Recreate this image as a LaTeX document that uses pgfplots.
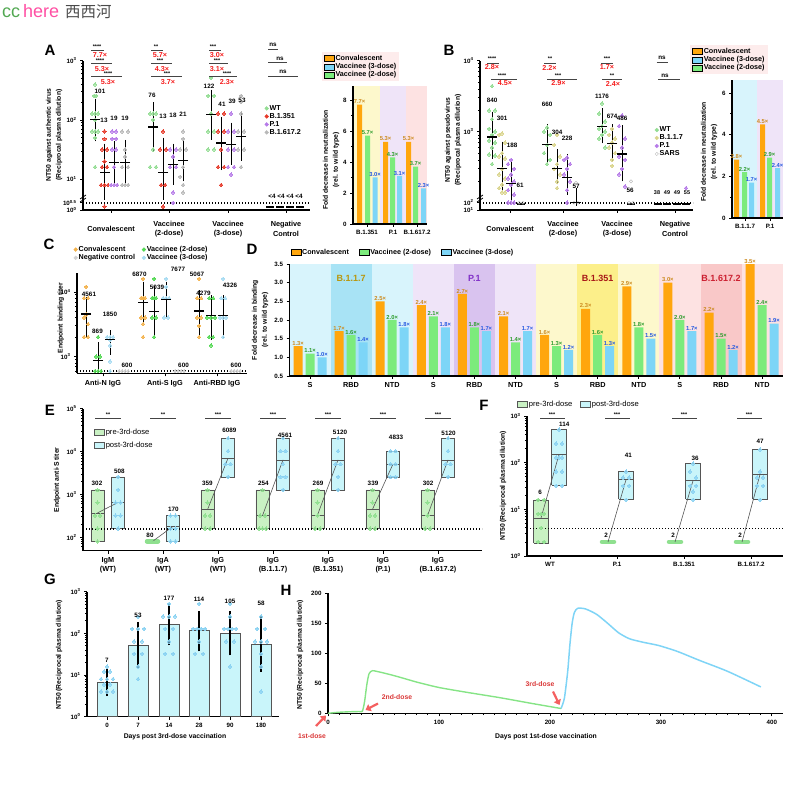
\documentclass[border=0pt]{standalone}
\usepackage{fontspec}
\setmainfont{Liberation Sans}
\newfontfamily\cjk{Noto Sans CJK SC}
\usepackage{pgfplots}
\pgfplotsset{compat=1.18}
\usetikzlibrary{arrows.meta}
\pgfkeys{/pgf/number format/assume math mode=true}

\newcommand\tl{\fontsize{6.2}{7}\selectfont\bfseries}
\newcommand\cl{\fontsize{7.3}{9.5}\selectfont\bfseries}
\newcommand\al{\fontsize{6.8}{10}\selectfont\bfseries}
\newcommand\vl{\fontsize{6.3}{7}\selectfont\bfseries}
\newcommand\fl{\fontsize{5.8}{6}\selectfont\bfseries}
\newcommand\pl{\fontsize{15}{16}\selectfont\bfseries}
\newcommand\lgb{\fontsize{7.2}{8}\selectfont\bfseries}
\newcommand\lgr{\fontsize{7.6}{8}\selectfont}
\newcommand\st{\fontsize{5.4}{5}\selectfont\bfseries}
\newcommand\fr{\fontsize{7.2}{8}\selectfont\bfseries\color{sigred}}

\definecolor{cOr}{HTML}{FFA60D}
\definecolor{cGr}{HTML}{7CEB7C}
\definecolor{cBl}{HTML}{7DD5F7}
\definecolor{tOr}{HTML}{CC8A1E}
\definecolor{tGr}{HTML}{2C9C2C}
\definecolor{tBl}{HTML}{2458E0}
\definecolor{dWT}{HTML}{93DD93}
\definecolor{dRd}{HTML}{E63A2A}
\definecolor{dPu}{HTML}{B67BE8}
\definecolor{dGy}{HTML}{B8B8B8}
\definecolor{dYe}{HTML}{D9D48C}
\definecolor{cConv}{HTML}{F3B24C}
\definecolor{c2d}{HTML}{52D852}
\definecolor{c3d}{HTML}{A6DBF2}
\definecolor{cNeg}{HTML}{D0D0D0}
\definecolor{preF}{HTML}{C9F1C3}
\definecolor{postF}{HTML}{C9F5FA}
\definecolor{preD}{HTML}{8FE08F}
\definecolor{postD}{HTML}{8AD2F2}
\definecolor{boxE}{HTML}{555555}
\definecolor{sigred}{HTML}{F51C1C}
\definecolor{arrred}{HTML}{F46060}
\definecolor{labred}{HTML}{D93636}
\definecolor{legpink}{HTML}{FDECEC}
\definecolor{bgY}{HTML}{FDF8CC}
\definecolor{bgPu}{HTML}{EFE4F8}
\definecolor{bgR}{HTML}{FDE2E2}
\definecolor{bgC}{HTML}{D8F4FC}
\definecolor{bgC2}{HTML}{A8E3F5}
\definecolor{bgP2}{HTML}{D9C3EF}
\definecolor{bgY2}{HTML}{FCEF8A}
\definecolor{bgR2}{HTML}{F9C8C8}
\definecolor{vB117}{HTML}{B8960C}
\definecolor{vP1}{HTML}{8030C8}
\definecolor{vB1351}{HTML}{A81818}
\definecolor{vB16172}{HTML}{CC2030}
\definecolor{lnG}{HTML}{86E486}
\definecolor{lnB}{HTML}{7FD4F6}
\definecolor{wmgreen}{HTML}{52A852}
\definecolor{wmpink}{HTML}{FF4FA3}
\definecolor{wmgray}{HTML}{4A4A4A}
\definecolor{sigln}{HTML}{444444}

\pgfplotsset{
 myax/.style={scale only axis, anchor=south west, clip=false,
   axis x line=bottom, axis y line=left,
   axis line style={-, line width=1.1pt},
   tick style={black, line width=0.9pt},
   major tick length=3pt, minor tick length=1.8pt, tick align=outside,
   tick label style={font=\tl}, xticklabel style={font=\cl}},
 dots/.style={only marks, mark=*, mark size=1.75pt, color=#1, mark options={draw=#1, fill=#1, line width=0pt, opacity=0.85}},
 odots/.style={only marks, mark=o, mark size=1.6pt, color=#1, mark options={draw=#1, line width=0.5pt}},
 med/.style={only marks, mark=-, mark size=5pt, color=black, mark options={line width=1.2pt, draw=black},
   error bars/.cd, y dir=both, y explicit, error bar style={line width=1pt, black},
   error mark options={line width=1pt, black, mark size=3pt}},
 fbar/.style={ybar, bar shift=0pt, bar width=5pt, fill=#1, draw=none},
 lab/.style={nodes near coords={\pgfmathprintnumber[fixed,fixed zerofill,precision=1]{\pgfplotspointmeta}×},
   every node near coord/.append style={font=\fl, text=#1, inner sep=0.6pt}},
 dotleg/.style={legend cell align=left, legend style={draw=none, fill=none, font=\lgb, row sep=-0.5pt, inner sep=0pt, nodes={inner sep=1pt}},
   legend image code/.code={\draw[##1] plot coordinates {(2.5pt,0pt)};}},
 boxleg/.style={legend cell align=left, legend style={draw=none, fill=none, font=\lgb, inner sep=1pt, nodes={inner sep=1pt}},
   legend image code/.code={\draw[##1] (0pt,-3pt) rectangle (10pt,3pt);}},
}

\begin{document}
\begin{tikzpicture}
\path[use as bounding box] (0pt,0pt) rectangle (800pt,785pt);

%================ A main
\begin{axis}[myax, dotleg, at={(83pt,575pt)}, width=227pt, height=149.3pt,
  xmin=83, xmax=310, ymode=log, ymin=3.03, ymax=1000,
  xtick={111,169,228,286}, xticklabels={Convalescent,{Vaccinee\\(2-dose)},{Vaccinee\\(3-dose)},{Negative\\Control}},
  xticklabel style={align=center, anchor=center, yshift=-16pt},
  ytick={3.03,4,10,100,1000},
  yticklabels={10\textsuperscript{0},10\textsuperscript{0.5},10\textsuperscript{1},10\textsuperscript{2},10\textsuperscript{3}},
  minor ytick={20,30,40,50,60,70,80,90,200,300,400,500,600,700,800,900},
  legend style={at={(0.80,0.71)}, anchor=north west}]
\addlegendimage{only marks, mark=*, mark size=1.9pt, color=dWT, mark options={fill=dWT, draw=dWT}}\addlegendentry{WT}
\addlegendimage{only marks, mark=*, mark size=1.9pt, color=dRd, mark options={fill=dRd, draw=dRd}}\addlegendentry{B.1.351}
\addlegendimage{only marks, mark=*, mark size=1.9pt, color=dPu, mark options={fill=dPu, draw=dPu}}\addlegendentry{P.1}
\addlegendimage{only marks, mark=*, mark size=1.9pt, color=dGy, mark options={fill=dGy, draw=dGy}}\addlegendentry{B.1.617.2}
\addplot[black, line width=1.6pt, dash pattern=on 1.4pt off 1.6pt] coordinates {(83,4) (310,4)};
% WT
\addplot[dots=dWT] coordinates {(95,400)(94,256)(96,256)(92,128)(95,128)(98,128)(95,100)(92,64)(95,64)(98,64)(95,50)(95,16)
 (150,128)(153,128)(156,128)(153,100)(153,32)(150,16)(156,16)
 (211,512)(208,256)(214,256)(211,128)(208,64)(214,64)(208,32)(214,32)};
% B.1.351
\addplot[dots=dRd] coordinates {(104.5,64)(104.5,48)(102,32)(107,32)(104.5,20)(102,16)(107,16)(101,8)(104.5,8)(108,8)(104.5,3.45)
 (163,64)(160,32)(166,32)(161,8)(165,8)(163,3.45)
 (218,128)(224,128)(218,64)(224,64)(221,32)(218,16)(224,16)(221,8)};
% P.1
\addplot[dots=dPu] coordinates {(112,64)(116,64)(112,48)(116,48)(112,32)(116,32)(114,16)(111,8)(114,8)(117,8)
 (170,32)(176,32)(173,24)(170,16)(176,16)(173,6)(173,4)
 (231,128)(228,64)(234,64)(228,32)(234,32)(228,16)(234,16)(231,12)};
% B.1.617.2
\addplot[dots=dGy] coordinates {(122,64)(128,64)(125,32)(125,24)(122,16)(128,16)(122,8)(125,8)(128,8)
 (183,64)(183,48)(180,32)(186,32)(183,16)(180,11)(183,8)(183,6)
 (241,256)(241,200)(241,128)(238,64)(244,64)(238,32)(244,32)(241,16)};
\addplot[med] coordinates {(95,101) += (0,103) -= (0,52)  (104.5,13) += (0,22.5) -= (0,7.9)
 (114,19) += (0,20) -= (0,9.2)  (125,19) += (0,22) -= (0,9.9)
 (153,76) += (0,102) -= (0,43)  (163,13) += (0,32) -= (0,7.9)  (173,18) += (0,17.5) -= (0,8.9)  (183,21) += (0,20.5) -= (0,10.7)
 (211,122) += (0,167) -= (0,70)  (221,41) += (0,59) -= (0,25)  (231,39) += (0,41) -= (0,19.2)  (241,53) += (0,73) -= (0,30)};
\addplot[black, line width=2pt] coordinates {(266,3.35)(274,3.35)};
\addplot[black, line width=2pt] coordinates {(276,3.35)(284,3.35)};
\addplot[black, line width=2pt] coordinates {(286,3.35)(294,3.35)};
\addplot[black, line width=2pt] coordinates {(296,3.35)(304,3.35)};
\end{axis}

%================ A inset
\begin{axis}[myax, axis on top, at={(353pt,561pt)}, width=74pt, height=138pt,
  xmin=353, xmax=427, ymin=0, ymax=8.9,
  xtick={367,393,417}, xticklabels={B.1.351,P.1,B.1.617.2}, xticklabel style={font=\tl},
  ytick={0,2,4,6,8}, minor ytick={1,3,5,7},
  legend cell align=left,
  legend style={at={(-0.42,1.246)}, anchor=north west, fill=legpink, draw=none, font=\lgb, inner sep=2pt, row sep=-0.5pt, nodes={inner sep=1pt}},
  legend image code/.code={\fill[#1] (0pt,-3pt) rectangle (10pt,3pt);}]
\addlegendimage{fill=cOr}\addlegendentry{Convalescent}
\addlegendimage{fill=cBl}\addlegendentry{Vaccinee (3-dose)}
\addlegendimage{fill=cGr}\addlegendentry{Vaccinee (2-dose)}
\fill[bgY] (353,0) rectangle (380,8.9);
\fill[bgPu] (380,0) rectangle (406,8.9);
\fill[bgR] (406,0) rectangle (427,8.9);
\addplot[fbar=cOr, lab=tOr] coordinates {(359.5,7.7)(385.5,5.3)(408.5,5.3)};
\addplot[fbar=cGr, lab=tGr] coordinates {(367.5,5.7)(392.5,4.3)(415.5,3.7)};
\addplot[fbar=cBl, lab=tBl] coordinates {(375,3.0)(399.5,3.1)(423.5,2.3)};
\end{axis}

%================ B main
\begin{axis}[myax, dotleg, at={(480pt,575pt)}, width=213pt, height=149.3pt,
  xmin=480, xmax=693, ymode=log, ymin=79, ymax=10000,
  xtick={510,563,617,675}, xticklabels={Convalescent,{Vaccinee\\(2-dose)},{Vaccinee\\(3-dose)},{Negative\\Control}},
  xticklabel style={align=center, anchor=center, yshift=-16pt},
  ytick={79,100,1000,10000},
  yticklabels={10\textsuperscript{1},10\textsuperscript{2},10\textsuperscript{3},10\textsuperscript{4}},
  minor ytick={200,300,400,500,600,700,800,900,2000,3000,4000,5000,6000,7000,8000,9000},
  legend style={at={(0.82,0.565)}, anchor=north west}]
\addlegendimage{only marks, mark=*, mark size=1.9pt, color=dWT, mark options={fill=dWT, draw=dWT}}\addlegendentry{WT}
\addlegendimage{only marks, mark=*, mark size=1.9pt, color=dYe, mark options={fill=dYe, draw=dYe}}\addlegendentry{B.1.1.7}
\addlegendimage{only marks, mark=*, mark size=1.9pt, color=dPu, mark options={fill=dPu, draw=dPu}}\addlegendentry{P.1}
\addlegendimage{only marks, mark=o, mark size=1.7pt, color=gray!50, mark options={draw=gray!50}}\addlegendentry{SARS}
\addplot[black, line width=1.6pt, dash pattern=on 1.4pt off 1.6pt] coordinates {(480,100) (693,100)};
\addplot[dots=dWT] coordinates {(492,4400)(489,2000)(495,2000)(492,1500)(489,1100)(495,1000)(492,900)(489,750)(495,700)(492,600)(489,480)(495,460)(492,350)
 (547,1150)(544,1000)(550,900)(547,650)(544,500)(550,400)(547,350)
 (602,2500)(599,1800)(605,1400)(602,1200)(599,1100)(605,1000)(602,900)(599,800)(605,600)};
\addplot[dots=dYe] coordinates {(502,950)(499,900)(505,700)(502,500)(499,450)(505,420)(502,300)(499,250)(505,220)(502,180)(499,160)(505,140)(502,140)
 (557,900)(554,650)(560,450)(557,350)(554,300)(560,250)(557,200)(557,160)
 (612,1100)(609,900)(615,800)(612,700)(609,600)(615,500)(612,400)(612,330)};
\addplot[dots=dPu] coordinates {(511,400)(508,350)(514,300)(511,250)(508,220)(514,200)(511,180)(508,150)(514,130)(508,100)(511,100)(514,100)
 (567,430)(564,400)(570,350)(567,300)(564,250)(570,200)(567,150)(567,100)
 (622,1700)(619,1200)(625,800)(622,600)(619,450)(625,400)(622,300)(619,250)(625,170)
 (686,160)};
\addplot[odots=gray!50] coordinates {(519,100)(523,100)(576,190)(574,100)(578,100)(631,200)(629,100)(633,100)};
\addplot[med] coordinates {(492,840) += (0,900) -= (0,385)  (502,301) += (0,359) -= (0,139)  (511,188) += (0,152) -= (0,68)
 (547,660) += (0,490) -= (0,255)  (557,304) += (0,211) -= (0,104)  (567,228) += (0,206) -= (0,86)
 (576,100) += (0,45) -= (0,0)
 (602,1176) += (0,754) -= (0,419)  (612,674) += (0,476) -= (0,244)  (622,486) += (0,634) -= (0,266)};
\addplot[black, line width=2.2pt] coordinates {(517,97)(525,97)};
\addplot[black, line width=2.2pt] coordinates {(627,97)(635,97)};
\addplot[black, line width=2.2pt] coordinates {(654,97)(662,97)};
\addplot[black, line width=2.2pt] coordinates {(663,97)(671,97)};
\addplot[black, line width=2.2pt] coordinates {(673,97)(681,97)};
\addplot[black, line width=2.2pt] coordinates {(682,97)(690,97)};
\end{axis}

%================ B inset
\begin{axis}[myax, axis on top, at={(732pt,567pt)}, width=51pt, height=138pt,
  xmin=732, xmax=783, ymin=0, ymax=6.63,
  xtick={745,770}, xticklabels={B.1.1.7,P.1}, xticklabel style={font=\tl},
  ytick={0,2,4,6}, minor ytick={1,3,5},
  legend cell align=left,
  legend style={at={(-0.82,1.254)}, anchor=north west, fill=legpink, draw=none, font=\lgb, inner sep=2pt, row sep=-0.5pt, nodes={inner sep=1pt}},
  legend image code/.code={\fill[#1] (0pt,-3pt) rectangle (10pt,3pt);}]
\addlegendimage{fill=cOr}\addlegendentry{Convalescent}
\addlegendimage{fill=cBl}\addlegendentry{Vaccinee (3-dose)}
\addlegendimage{fill=cGr}\addlegendentry{Vaccinee (2-dose)}
\fill[bgC] (732,0) rectangle (757,6.63);
\fill[bgPu] (757,0) rectangle (783,6.63);
\addplot[fbar=cOr, lab=tOr] coordinates {(736.5,2.8)(762.5,4.5)};
\addplot[fbar=cGr, lab=tGr] coordinates {(744.5,2.2)(769.5,2.9)};
\addplot[fbar=cBl, lab=tBl] coordinates {(751.5,1.7)(777.5,2.4)};
\end{axis}

%================ C
\begin{axis}[myax, dotleg, at={(77pt,411.7pt)}, width=170pt, height=100.6pt,
  xmin=77, xmax=247, ymode=log, ymin=554, ymax=19860,
  xtick={103,165,217}, xticklabels={Anti-N IgG,Anti-S IgG,Anti-RBD IgG},
  ytick={1000,10000}, yticklabels={10\textsuperscript{3},10\textsuperscript{4}},
  minor ytick={600,700,800,900,2000,3000,4000,5000,6000,7000,8000,9000},
  legend columns=2, legend style={at={(-0.02,1.275)}, anchor=north west, /tikz/every even column/.append style={column sep=6pt}}]
\addlegendimage{only marks, mark=*, mark size=1.9pt, color=cConv, mark options={fill=cConv, draw=cConv}}\addlegendentry{Convalescent}
\addlegendimage{only marks, mark=*, mark size=1.9pt, color=c2d, mark options={fill=c2d, draw=c2d}}\addlegendentry{Vaccinee (2-dose)}
\addlegendimage{only marks, mark=*, mark size=1.9pt, color=cNeg, mark options={fill=cNeg, draw=cNeg}}\addlegendentry{Negative control}
\addlegendimage{only marks, mark=*, mark size=1.9pt, color=c3d, mark options={fill=c3d, draw=c3d}}\addlegendentry{Vaccinee (3-dose)}
\addplot[black, line width=1.6pt, dash pattern=on 1.4pt off 1.6pt] coordinates {(77,600) (247,600)};
\addplot[dots=cNeg] coordinates {(119,600)(122,600)(125,600)(128,600)(175,600)(178,600)(181,600)(184,600)(231,600)(234,600)(237,600)(240,600)};
\addplot[dots=cConv] coordinates {(86,12000)(84,8000)(88,8000)(86,4500)(84,4000)(88,3200)(84,2000)(88,2000)
 (143,16000)(141,8000)(145,8000)(143,8000)(141,4000)(145,4000)(143,3200)(143,2000)
 (199,16000)(197,8000)(201,8000)(197,4000)(201,4000)(199,3000)(199,2000)};
\addplot[dots=c2d] coordinates {(98,2000)(96,1000)(100,1000)(95,600)(98,600)(101,600)
 (154,16000)(152,8000)(156,8000)(154,8000)(152,4000)(156,4000)(154,2000)
 (209,8000)(213,8000)(207,4000)(211,4000)(215,4000)(209,2000)(213,2000)(211,1500)};
\addplot[dots=c3d] coordinates {(107,2000)(110,2000)(113,2000)(110,1800)(110,1500)(110,850)(110,600)
 (166,16000)(166,12000)(163,8000)(166,8000)(169,8000)(164,4000)(168,4000)
 (223,16000)(221,8000)(225,8000)(220,4000)(223,4000)(226,4000)(223,2000)};
\addplot[med] coordinates {(86,4561) += (0,2939) -= (0,2361)  (98,869) += (0,631) -= (0,269)  (110,1850) += (0,450) -= (0,650)
 (143,6870) += (0,6130) -= (0,3370)  (154,5039) += (0,5961) -= (0,2739)  (166,7677) += (0,5323) -= (0,3177)
 (199,5067) += (0,4433) -= (0,2667)  (211,4279) += (0,3721) -= (0,2279)  (223,4326) += (0,3674) -= (0,2126)};
\end{axis}

%================ D
\begin{axis}[myax, axis on top, boxleg, at={(289.5pt,409pt)}, width=493.1pt, height=112pt,
  xmin=289.5, xmax=782.6, ymin=0, ymax=3,
  ytick={0,0.5,1,1.5,2,2.5,3}, yticklabels={0.5,1.0,1.5,2.0,2.5,3.0,3.5},
  xtick={310,351.1,392.2,433.3,474.4,515.5,556.6,597.7,638.8,679.9,721.0,762.1},
  xticklabels={S,RBD,NTD,S,RBD,NTD,S,RBD,NTD,S,RBD,NTD},
  legend columns=3, legend image code/.code={\fill[#1] (0pt,-3pt) rectangle (10pt,3pt);},
  legend style={at={(0,1.101)}, anchor=west, /tikz/every even column/.append style={column sep=9pt}}]
\addlegendimage{fill=cOr}\addlegendentry{Convalescent}
\addlegendimage{fill=cGr}\addlegendentry{Vaccinee (2-dose)}
\addlegendimage{fill=cBl}\addlegendentry{Vaccinee (3-dose)}
\fill[bgC] (289.5,0) rectangle (330.6,3);
\fill[bgC2] (330.6,0) rectangle (371.7,3);
\fill[bgC] (371.7,0) rectangle (412.8,3);
\fill[bgPu] (412.8,0) rectangle (453.9,3);
\fill[bgP2] (453.9,0) rectangle (495.0,3);
\fill[bgPu] (495.0,0) rectangle (536.1,3);
\fill[bgY] (536.1,0) rectangle (577.2,3);
\fill[bgY2] (577.2,0) rectangle (618.3,3);
\fill[bgY] (618.3,0) rectangle (659.4,3);
\fill[bgR] (659.4,0) rectangle (700.5,3);
\fill[bgR2] (700.5,0) rectangle (741.6,3);
\fill[bgR] (741.6,0) rectangle (782.6,3);
\node[font=\fontsize{9}{10}\selectfont\bfseries, text=vB117] at (351.1,2.62) {B.1.1.7};
\node[font=\fontsize{9}{10}\selectfont\bfseries, text=vP1] at (474.4,2.62) {P.1};
\node[font=\fontsize{9}{10}\selectfont\bfseries, text=vB1351] at (597.7,2.62) {B.1.351};
\node[font=\fontsize{9}{10}\selectfont\bfseries, text=vB16172] at (721.0,2.62) {B.1.617.2};
\addplot[fbar=cOr, bar width=9pt, y filter/.expression={y-0.5}, point meta=rawy, lab=tOr] coordinates {
 (298,1.3)(339.1,1.7)(380.2,2.5)(421.3,2.4)(462.4,2.7)(503.5,2.1)(544.6,1.6)(585.7,2.3)(626.8,2.9)(667.9,3.0)(709.0,2.2)(750.1,3.5)};
\addplot[fbar=cGr, bar width=9pt, y filter/.expression={y-0.5}, point meta=rawy, lab=tGr] coordinates {
 (310,1.1)(351.1,1.6)(392.2,2.0)(433.3,2.1)(474.4,1.8)(515.5,1.4)(556.6,1.3)(597.7,1.6)(638.8,1.8)(679.9,2.0)(721.0,1.5)(762.1,2.4)};
\addplot[fbar=cBl, bar width=9pt, y filter/.expression={y-0.5}, point meta=rawy, lab=tBl] coordinates {
 (322,1.0)(363.1,1.4)(404.2,1.8)(445.3,1.8)(486.4,1.7)(527.5,1.7)(568.6,1.2)(609.7,1.3)(650.8,1.5)(691.9,1.7)(733.0,1.2)(774.1,1.9)};
\end{axis}

%================ E
\begin{axis}[myax, boxleg, at={(83pt,234.3pt)}, width=399pt, height=142pt,
  xmin=83, xmax=482, ymode=log, ymin=48.6, ymax=100000,
  xtick={108,163,218,273,328,383,438},
  xticklabels={{IgM\\(WT)},{IgA\\(WT)},{IgG\\(WT)},{IgG\\(B.1.1.7)},{IgG\\(B.1.351)},{IgG\\(P.1)},{IgG\\(B.1.617.2)}},
  xticklabel style={align=center},
  ytick={100,1000,10000,100000}, yticklabels={10\textsuperscript{2},10\textsuperscript{3},10\textsuperscript{4},10\textsuperscript{5}},
  minor ytick={60,70,80,90,200,300,400,500,600,700,800,900,2000,3000,4000,5000,6000,7000,8000,9000,20000,30000,40000,50000,60000,70000,80000,90000},
  legend style={at={(0.025,0.871)}, anchor=north west, font=\lgr, row sep=4pt}]
\addlegendimage{fill=preF, draw=boxE, line width=0.6pt}\addlegendentry{pre-3rd-dose}
\addlegendimage{fill=postF, draw=boxE, line width=0.6pt}\addlegendentry{post-3rd-dose}
% pre boxes
\addplot[fill=preF, draw=boxE, line width=0.6pt] coordinates {(90.9,80)(104.1,80)(104.1,1280)(90.9,1280)(90.9,80)};
\addplot[fill=preF, draw=boxE, line width=0.6pt] coordinates {(200.9,160)(214.1,160)(214.1,1280)(200.9,1280)(200.9,160)};
\addplot[fill=preF, draw=boxE, line width=0.6pt] coordinates {(255.9,160)(269.1,160)(269.1,1280)(255.9,1280)(255.9,160)};
\addplot[fill=preF, draw=boxE, line width=0.6pt] coordinates {(310.9,160)(324.1,160)(324.1,1280)(310.9,1280)(310.9,160)};
\addplot[fill=preF, draw=boxE, line width=0.6pt] coordinates {(365.9,160)(379.1,160)(379.1,1280)(365.9,1280)(365.9,160)};
\addplot[fill=preF, draw=boxE, line width=0.6pt] coordinates {(420.9,160)(434.1,160)(434.1,1280)(420.9,1280)(420.9,160)};
% post boxes
\addplot[fill=postF, draw=boxE, line width=0.6pt] coordinates {(111.4,160)(124.6,160)(124.6,2560)(111.4,2560)(111.4,160)};
\addplot[fill=postF, draw=boxE, line width=0.6pt] coordinates {(166.4,80)(179.6,80)(179.6,320)(166.4,320)(166.4,80)};
\addplot[fill=postF, draw=boxE, line width=0.6pt] coordinates {(221.4,2560)(234.6,2560)(234.6,20480)(221.4,20480)(221.4,2560)};
\addplot[fill=postF, draw=boxE, line width=0.6pt] coordinates {(276.4,1280)(289.6,1280)(289.6,20480)(276.4,20480)(276.4,1280)};
\addplot[fill=postF, draw=boxE, line width=0.6pt] coordinates {(331.4,1280)(344.6,1280)(344.6,20480)(331.4,20480)(331.4,1280)};
\addplot[fill=postF, draw=boxE, line width=0.6pt] coordinates {(386.4,2560)(399.6,2560)(399.6,10240)(386.4,10240)(386.4,2560)};
\addplot[fill=postF, draw=boxE, line width=0.6pt] coordinates {(441.4,2560)(454.6,2560)(454.6,20480)(441.4,20480)(441.4,2560)};
\addplot[black, line width=1.6pt, dash pattern=on 1.4pt off 1.6pt] coordinates {(83,157) (482,157)};
% flat IgA pre
\addplot[preD, line width=4.5pt, line cap=round] coordinates {(147,80)(158,80)};
% dots
\addplot[dots=preD] coordinates {(97.5,1280)(97.5,640)(95,320)(100,320)(97.5,160)(97.5,80)
 (149,80)(152.5,80)(156,80)
 (207.5,1280)(207.5,640)(205,320)(210,320)(205,160)(210,160)
 (262.5,1280)(260,320)(265,320)(259,160)(262.5,160)(266,160)
 (317.5,1280)(317.5,640)(317.5,320)(315,160)(320,160)
 (372.5,1280)(372.5,640)(370,320)(375,320)(370,160)(375,160)
 (427.5,1280)(427.5,640)(427.5,320)(425,160)(430,160)};
\addplot[dots=postD] coordinates {(118,2560)(118,1280)(115.5,640)(120.5,640)(115.5,320)(120.5,320)(118,160)
 (170.5,320)(175.5,320)(170.5,160)(175.5,160)(170.5,80)(175.5,80)
 (228,20480)(228,10240)(225.5,5120)(230.5,5120)(228,2560)
 (283,20480)(280.5,10240)(285.5,10240)(283,5120)(280.5,2560)(285.5,2560)(283,1280)
 (338,20480)(338,10240)(335.5,5120)(340.5,5120)(338,2560)(338,1280)
 (390.5,10240)(395.5,10240)(390.5,5120)(395.5,5120)(390.5,2560)(395.5,2560)
 (448,20480)(448,10240)(445.5,5120)(450.5,5120)(448,2560)};
% medians
\addplot[boxE, line width=0.7pt] coordinates {(90.9,370)(104.1,370)};
\addplot[boxE, line width=0.7pt] coordinates {(200.9,440)(214.1,440)};
\addplot[boxE, line width=0.7pt] coordinates {(255.9,320)(269.1,320)};
\addplot[boxE, line width=0.7pt] coordinates {(310.9,330)(324.1,330)};
\addplot[boxE, line width=0.7pt] coordinates {(365.9,450)(379.1,450)};
\addplot[boxE, line width=0.7pt] coordinates {(420.9,320)(434.1,320)};
\addplot[boxE, line width=0.7pt] coordinates {(111.4,650)(124.6,650)};
\addplot[boxE, line width=0.7pt] coordinates {(166.4,180)(179.6,180)};
\addplot[boxE, line width=0.7pt] coordinates {(221.4,7000)(234.6,7000)};
\addplot[boxE, line width=0.7pt] coordinates {(276.4,6400)(289.6,6400)};
\addplot[boxE, line width=0.7pt] coordinates {(331.4,6400)(344.6,6400)};
\addplot[boxE, line width=0.7pt] coordinates {(386.4,5120)(399.6,5120)};
\addplot[boxE, line width=0.7pt] coordinates {(441.4,6400)(454.6,6400)};
% connectors
\addplot[boxE, line width=0.6pt] coordinates {(97.5,370)(118,650)};
\addplot[boxE, line width=0.6pt] coordinates {(152.5,80)(173,180)};
\addplot[boxE, line width=0.6pt] coordinates {(207.5,440)(228,7000)};
\addplot[boxE, line width=0.6pt] coordinates {(262.5,320)(283,6400)};
\addplot[boxE, line width=0.6pt] coordinates {(317.5,330)(338,6400)};
\addplot[boxE, line width=0.6pt] coordinates {(372.5,450)(393,5120)};
\addplot[boxE, line width=0.6pt] coordinates {(427.5,320)(448,6400)};
\end{axis}

%================ F
\begin{axis}[myax, boxleg, at={(527pt,229pt)}, width=256pt, height=140pt,
  xmin=527, xmax=783, ymode=log, ymin=1, ymax=1000,
  xtick={550,617,684,751}, xticklabels={WT,P.1,B.1.351,B.1.617.2}, xticklabel style={font=\tl},
  ytick={1,10,100,1000}, yticklabels={10\textsuperscript{0},10\textsuperscript{1},10\textsuperscript{2},10\textsuperscript{3}},
  minor ytick={2,3,4,5,6,7,8,9,20,30,40,50,60,70,80,90,200,300,400,500,600,700,800,900},
  legend columns=2,
  legend style={at={(-0.043,1.082)}, anchor=west, font=\lgr, /tikz/every even column/.append style={column sep=7pt}}]
\addlegendimage{fill=preF, draw=boxE, line width=0.6pt}\addlegendentry{pre-3rd-dose}
\addlegendimage{fill=postF, draw=boxE, line width=0.6pt}\addlegendentry{post-3rd-dose}
\addplot[fill=preF, draw=boxE, line width=0.6pt] coordinates {(533.5,1.9)(548.5,1.9)(548.5,16)(533.5,16)(533.5,1.9)};
\addplot[fill=postF, draw=boxE, line width=0.6pt] coordinates {(551.5,33)(566.5,33)(566.5,512)(551.5,512)(551.5,33)};
\addplot[fill=postF, draw=boxE, line width=0.6pt] coordinates {(618.5,16.4)(633.5,16.4)(633.5,64)(618.5,64)(618.5,16.4)};
\addplot[fill=postF, draw=boxE, line width=0.6pt] coordinates {(685.5,16.4)(700.5,16.4)(700.5,96)(685.5,96)(685.5,16.4)};
\addplot[fill=postF, draw=boxE, line width=0.6pt] coordinates {(752.5,16.4)(767.5,16.4)(767.5,192)(752.5,192)(752.5,16.4)};
\addplot[black, line width=1.6pt, dash pattern=on 1.4pt off 1.6pt] coordinates {(527,3.9) (783,3.9)};
\addplot[preD, line width=4.5pt, line cap=round] coordinates {(602,2)(614,2)};
\addplot[preD, line width=4.5pt, line cap=round] coordinates {(669,2)(681,2)};
\addplot[preD, line width=4.5pt, line cap=round] coordinates {(736,2)(748,2)};
\addplot[dots=preD] coordinates {(538,16)(544,16)(538,8)(541,8)(544,8)(541,4)(538,2)(544,2)};
\addplot[dots=postD] coordinates {(559,512)(556,256)(562,256)(556,128)(559,128)(562,128)(556,64)(562,64)(556,32)(562,32)
 (626,64)(623,48)(629,48)(623,32)(629,32)(626,16)
 (693,96)(690,64)(696,48)(690,32)(696,32)(693,24)(693,16)
 (760,192)(760,64)(757,48)(763,48)(757,32)(763,32)(760,16)};
\addplot[boxE, line width=0.7pt] coordinates {(533.5,6.5)(548.5,6.5)};
\addplot[boxE, line width=0.7pt] coordinates {(551.5,150)(566.5,150)};
\addplot[boxE, line width=0.7pt] coordinates {(618.5,43)(633.5,43)};
\addplot[boxE, line width=0.7pt] coordinates {(685.5,41)(700.5,41)};
\addplot[boxE, line width=0.7pt] coordinates {(752.5,56)(767.5,56)};
\addplot[boxE, line width=0.6pt] coordinates {(541,6.5)(559,150)};
\addplot[boxE, line width=0.6pt] coordinates {(608,2)(626,43)};
\addplot[boxE, line width=0.6pt] coordinates {(675,2)(693,41)};
\addplot[boxE, line width=0.6pt] coordinates {(742,2)(760,56)};
\end{axis}

%================ G
\begin{axis}[myax, at={(87pt,68.3pt)}, width=192pt, height=125pt,
  xmin=87, xmax=279, ymode=log, ymin=1, ymax=1000,
  xtick={107,138,169,199,230,261}, xticklabels={0,7,14,28,90,180}, xticklabel style={font=\tl},
  ytick={1,10,100,1000}, yticklabels={10\textsuperscript{0},10\textsuperscript{1},10\textsuperscript{2},10\textsuperscript{3}},
  minor ytick={2,3,4,5,6,7,8,9,20,30,40,50,60,70,80,90,200,300,400,500,600,700,800,900}]
\addplot[ybar, bar shift=0pt, bar width=20pt, fill=postF, draw=boxE, line width=0.7pt] coordinates {(107,6.5)(138,52)(169,165)(199,115)(230,100)(261,55)};
\addplot[dots=postD] coordinates {(107,16)(104,12)(110,12)(101,8)(107,8)(113,8)(104,6)(110,6)(101,4)(107,4)(113,4)
 (138,250)(132,128)(138,128)(144,128)(134,64)(142,64)(134,32)(142,32)(138,16)(138,8)
 (169,512)(163,256)(169,256)(175,256)(165,128)(173,128)(169,64)(165,32)(173,32)
 (199,512)(193,128)(197,128)(201,128)(205,128)(199,64)(195,32)(203,32)
 (230,512)(230,256)(224,128)(228,128)(232,128)(236,128)(226,64)(234,64)(230,16)
 (261,256)(257,128)(265,128)(255,64)(261,64)(267,64)(261,32)(261,16)(261,4)};
\addplot[draw=none, mark=none, error bars/.cd, y dir=both, y explicit, error bar style={draw=black, line width=1.1pt}, error mark options={draw=black, line width=1.1pt, mark size=5.5pt}]
 coordinates {(107,6.5) += (0,4) -= (0,2.3)  (138,52) += (0,88) -= (0,32)  (169,165) += (0,235) -= (0,95)
 (199,115) += (0,135) -= (0,65)  (230,100) += (0,150) -= (0,60)  (261,55) += (0,140) -= (0,39)};
\end{axis}

%================ H
\begin{axis}[myax, at={(328pt,71.7pt)}, width=455pt, height=120pt,
  xmin=0, xmax=410, ymin=0, ymax=200,
  xtick={0,100,200,300,400}, minor xtick={10,20,30,40,50,60,70,80,90,110,120,130,140,150,160,170,180,190,210,220,230,240,250,260,270,280,290,310,320,330,340,350,360,370,380,390},
  xticklabel style={font=\tl},
  ytick={0,50,100,150,200}]
\addplot[lnG, line width=1.4pt, smooth, tension=0.4] coordinates {(0,0)(8,1.5)(18,2.5)(28,3)(31,3.5)(33,20)(35,48)(37,66)(40,71)(46,69)(55,65)(65,60)(80,52)(100,43)(125,35)(155,26)(185,16)(210,8)};
\addplot[lnB, line width=1.5pt, smooth, tension=0.4] coordinates {(210,8)(213,25)(216,70)(218,115)(220,150)(222,168)(225,175)(232,174)(242,165)(252,150)(262,134)(272,124)(285,118)(298,113)(315,103)(335,88)(360,70)(390,44)};
\end{axis}

%================ free annotations (pixel coordinates)
\begin{scope}[x=1pt,y=-1pt,shift={(0pt,785pt)}]
\node[anchor=west,inner sep=0pt] at (2,12) {\fontsize{18}{19}\selectfont\textcolor{wmgreen}{cc}\hspace{3pt}\textcolor{wmpink}{here}\hspace{6pt}\textcolor{wmgray}{\cjk\fontsize{15.5}{16}\selectfont 西西河}};
% panel letters
\node[font=\pl] at (50,50) {A};
\node[font=\pl] at (449,50) {B};
\node[font=\pl] at (49,244) {C};
\node[font=\pl] at (252,249) {D};
\node[font=\pl] at (50,410) {E};
\node[font=\pl] at (484,405) {F};
\node[font=\pl] at (50,579) {G};
\node[font=\pl] at (286,590) {H};
% axis labels
\node[font=\al, rotate=90, align=center] at (54,135) {NT50 against authentic virus\\(Reciprocal plasma dilution)};
\node[font=\al, rotate=90, align=center] at (331,160) {Fold decrease in neutralization\\(rel. to wild type)};
\node[font=\al, rotate=90, align=center] at (453,140) {NT50 against pseudovirus\\(Reciprocal plasma dilution)};
\node[font=\al, rotate=90, align=center] at (709,152) {Fold decrease in neutralization\\(rel. to wild type)};
\node[font=\al, rotate=90] at (61,318) {Endpoint binding titer};
\node[font=\al, rotate=90, align=center] at (260,320) {Fold decrease in binding\\(rel. to wild type)};
\node[font=\al, rotate=90] at (57,480) {Endpoint anti-S titer};
\node[font=\al, rotate=90] at (503,486) {NT50 (Reciprocal plasma dilution)};
\node[font=\al, rotate=90] at (59,655) {NT50 (Reciprocal plasma dilution)};
\node[font=\al, rotate=90] at (300,655) {NT50 (Reciprocal plasma dilution)};
\node[font=\al] at (175,737) {Days post 3rd-dose vaccination};
\node[font=\al] at (546,737) {Days post 1st-dose vaccination};
% axis break marks
\draw[line width=0.8pt] (80,199) -- (86,195);
\draw[line width=0.8pt] (80,202) -- (86,198);
\draw[line width=0.8pt] (477,199) -- (483,195);
\draw[line width=0.8pt] (477,202) -- (483,198);
% A values
\node[font=\vl] at (100,91) {101};
\node[font=\vl] at (104,120.5) {13};
\node[font=\vl] at (114,118) {19};
\node[font=\vl] at (125,118) {19};
\node[font=\vl] at (152,95) {76};
\node[font=\vl] at (163,116.5) {13};
\node[font=\vl] at (173,115.5) {18};
\node[font=\vl] at (183,114) {21};
\node[font=\vl] at (209,86) {122};
\node[font=\vl] at (222,104) {41};
\node[font=\vl] at (232,101.5) {39};
\node[font=\vl] at (242,100) {53};
\node[font=\vl] at (272,196.5) {<4};
\node[font=\vl] at (281,196.5) {<4};
\node[font=\vl] at (290,196.5) {<4};
\node[font=\vl] at (299,196.5) {<4};
% A significance
\draw[sigln, line width=0.8pt] (91,50) -- (104,50);
\draw[sigln, line width=0.8pt] (91,63.3) -- (112,63.3);
\draw[sigln, line width=0.8pt] (91,76.7) -- (122,76.7);
\node[font=\st] at (97,46.5) {****};
\node[font=\st] at (100,60.2) {****};
\node[font=\st] at (108,73.6) {****};
\node[font=\fr] at (100,54.8) {7.7×};
\node[font=\fr] at (102,68.6) {5.3×};
\node[font=\fr] at (108,82.3) {5.3×};
\draw[sigln, line width=0.8pt] (151,50) -- (163,50);
\draw[sigln, line width=0.8pt] (151,63.3) -- (172,63.3);
\draw[sigln, line width=0.8pt] (151,76.7) -- (182,76.7);
\node[font=\st] at (156,46.5) {**};
\node[font=\st] at (160,60.2) {***};
\node[font=\st] at (167,73.6) {***};
\node[font=\fr] at (160,54.8) {5.7×};
\node[font=\fr] at (162,68.6) {4.3×};
\node[font=\fr] at (168,82.3) {3.7×};
\draw[sigln, line width=0.8pt] (209,50) -- (221,50);
\draw[sigln, line width=0.8pt] (209,63.3) -- (228,63.3);
\draw[sigln, line width=0.8pt] (209,76.7) -- (237,76.7);
\node[font=\st] at (213,46.5) {***};
\node[font=\st] at (217,60.2) {***};
\node[font=\st] at (227,73.6) {****};
\node[font=\fr] at (217,54.8) {3.0×};
\node[font=\fr] at (217,68.6) {3.1×};
\node[font=\fr] at (227,82.3) {2.3×};
\draw[sigln, line width=0.8pt] (268,49) -- (278,49);
\draw[sigln, line width=0.8pt] (268,62.7) -- (287,62.7);
\draw[sigln, line width=0.8pt] (268,76.7) -- (298,76.7);
\node[font=\vl] at (273,44.5) {ns};
\node[font=\vl] at (280,58.5) {ns};
\node[font=\vl] at (283,72.3) {ns};
% B values
\node[font=\vl] at (492,100.5) {840};
\node[font=\vl] at (502,118.3) {301};
\node[font=\vl] at (512,145) {188};
\node[font=\vl] at (520,185) {61};
\node[font=\vl] at (547,104) {660};
\node[font=\vl] at (557,132.7) {304};
\node[font=\vl] at (567,138.3) {228};
\node[font=\vl] at (576,186.7) {57};
\node[font=\vl] at (602,96.7) {1176};
\node[font=\vl] at (612,116) {674};
\node[font=\vl] at (622,118.3) {486};
\node[font=\vl] at (630,190) {56};
\node[font=\fontsize{5.5}{6}\selectfont\bfseries] at (657,193) {38};
\node[font=\fontsize{5.5}{6}\selectfont\bfseries] at (667,193) {49};
\node[font=\fontsize{5.5}{6}\selectfont\bfseries] at (677,193) {49};
\node[font=\fontsize{5.5}{6}\selectfont\bfseries] at (687,193) {55};
% B significance
\draw[sigln, line width=0.8pt] (487,63) -- (499,63);
\draw[sigln, line width=0.8pt] (491,79.3) -- (517,79.3);
\node[font=\st] at (492,59) {****};
\node[font=\st] at (502,75.7) {****};
\node[font=\fr] at (492,67.5) {2.8×};
\node[font=\fr] at (505,83.5) {4.5×};
\draw[sigln, line width=0.8pt] (544,63) -- (556,63);
\draw[sigln, line width=0.8pt] (547,79.3) -- (577,79.3);
\node[font=\st] at (550,59) {**};
\node[font=\st] at (558,75.7) {***};
\node[font=\fr] at (549.5,67.5) {2.2×};
\node[font=\fr] at (558.5,83.5) {2.9×};
\draw[sigln, line width=0.8pt] (601,63) -- (613,63);
\draw[sigln, line width=0.8pt] (602,79.3) -- (622,79.3);
\node[font=\st] at (607,59) {***};
\node[font=\st] at (612,75.7) {**};
\node[font=\fr] at (607,67.5) {1.7×};
\node[font=\fr] at (613,83.5) {2.4×};
\draw[sigln, line width=0.8pt] (656.7,62.3) -- (668.3,62.3);
\draw[sigln, line width=0.8pt] (658.3,79.7) -- (680,79.7);
\node[font=\vl] at (662,57.5) {ns};
\node[font=\vl] at (665,75.5) {ns};
% C values
\node[font=\vl] at (89,294.5) {4561};
\node[font=\vl] at (97.5,331.5) {869};
\node[font=\vl] at (110,314) {1850};
\node[font=\vl] at (139.5,274.5) {6870};
\node[font=\vl] at (157,287) {5039};
\node[font=\vl] at (178,269.5) {7677};
\node[font=\vl] at (197,274) {5067};
\node[font=\vl] at (203.5,293.5) {4279};
\node[font=\vl] at (230,285) {4326};
\node[font=\vl] at (127,365) {600};
\node[font=\vl] at (183.5,365) {600};
\node[font=\vl] at (236,365) {600};
% E values
\node[font=\vl] at (97,483.3) {302};
\node[font=\vl] at (119.3,471.7) {508};
\node[font=\vl] at (150,535) {80};
\node[font=\vl] at (173.3,509) {170};
\node[font=\vl] at (207.3,483.3) {359};
\node[font=\vl] at (229.3,430.5) {6089};
\node[font=\vl] at (263.3,483.3) {254};
\node[font=\vl] at (285,435) {4561};
\node[font=\vl] at (318,483.3) {269};
\node[font=\vl] at (340,432) {5120};
\node[font=\vl] at (373,483.3) {339};
\node[font=\vl] at (396,437) {4833};
\node[font=\vl] at (428,483.3) {302};
\node[font=\vl] at (448.5,433) {5120};
% E significance
\foreach \c/\s in {108/**,163/**,218/***,273/***,328/***,383/***,438/***}{
  \draw[sigln, line width=0.9pt] (\c-13,418.3) -- (\c+13,418.3);
  \node[font=\st] at (\c,414.8) {\s};
}
% F values
\node[font=\vl] at (540,492.3) {6};
\node[font=\vl] at (564.3,424.3) {114};
\node[font=\vl] at (628.3,455) {41};
\node[font=\vl] at (695,458.3) {36};
\node[font=\vl] at (760,441.7) {47};
\node[font=\vl] at (606,535.5) {2};
\node[font=\vl] at (673,535.5) {2};
\node[font=\vl] at (740,535.5) {2};
\foreach \c in {552,617,684,749}{
  \draw[sigln, line width=0.9pt] (\c-12,418.3) -- (\c+13,418.3);
  \node[font=\st] at (\c,414.8) {***};
}
% G values
\node[font=\vl] at (107,660) {7};
\node[font=\vl] at (138,615) {53};
\node[font=\vl] at (169,598) {177};
\node[font=\vl] at (199,599) {114};
\node[font=\vl] at (230,601) {105};
\node[font=\vl] at (261,603) {58};
% H arrows
\draw[arrred, line width=2.2pt, -{Triangle[length=5pt,width=7.5pt]}] (316,726) -- (326,715.5);
\draw[arrred, line width=2.2pt, -{Triangle[length=5pt,width=7.5pt]}] (378,703.5) -- (365.5,710);
\draw[arrred, line width=2.2pt, -{Triangle[length=5pt,width=7.5pt]}] (553,691.5) -- (559.5,705);
\node[font=\al, text=labred] at (312,736) {1st-dose};
\node[font=\al, text=labred] at (397,697) {2nd-dose};
\node[font=\al, text=labred] at (540,684.5) {3rd-dose};
\end{scope}
\end{tikzpicture}
\end{document}
